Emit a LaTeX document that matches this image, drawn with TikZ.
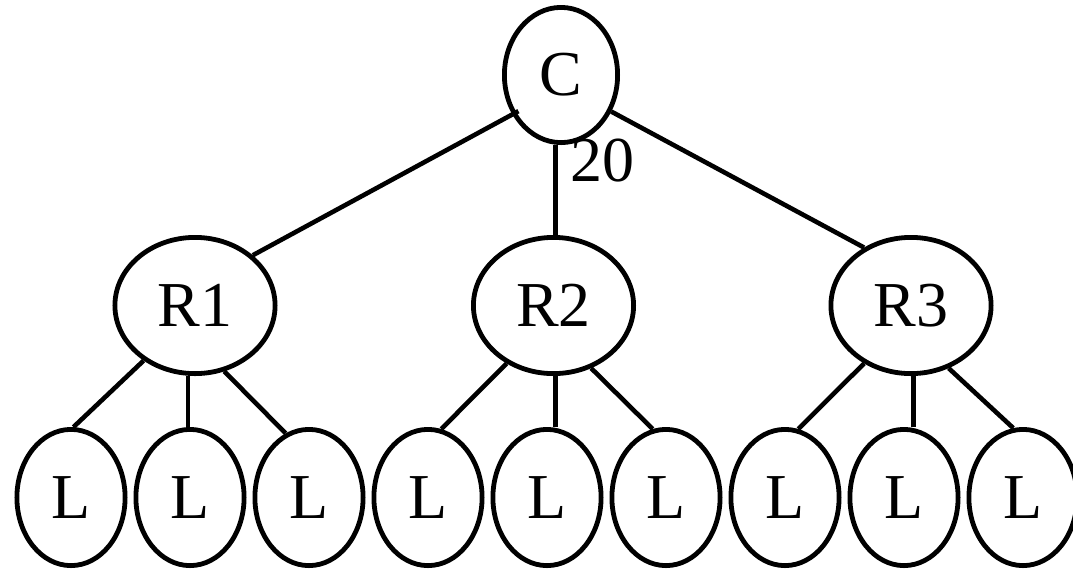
\documentclass[tikz,border=0pt]{standalone}
\usepackage{fontspec}
\setmainfont{Liberation Serif}
\usetikzlibrary{shapes.geometric}
\begin{document}
\begin{tikzpicture}[x=0.5pt,y=-0.5pt,
  nd/.style={ellipse,draw,line width=2.4pt,inner sep=0pt,font=\fontsize{32}{36}\selectfont},
  cnode/.style={nd,minimum width=56.6pt,minimum height=67.6pt},
  rnode/.style={nd,minimum width=80.1pt,minimum height=68.1pt},
  lnode/.style={nd,minimum width=54.1pt,minimum height=68.1pt},
  conn/.style={line width=2.3pt},
  lbl/.style={inner sep=0pt,font=\fontsize{32}{36}\selectfont}]
\useasboundingbox (0,0) rectangle (1073,570);
\node[cnode] (C) at (561,75) {C};
\node[rnode] (R1) at (195,305.5) {R1};
\node[rnode] (R2) at (553.5,305.5) {R2};
\node[rnode] (R3) at (911,305.5) {R3};
\foreach \i/\x in {1/71,2/190,3/309,4/428,5/547,6/666,7/785,8/904,9/1023}
  \node[lnode] (L\i) at (\x,497.5) {L};
\node[lbl] (w) at (602,161) {20};
% C to R
\draw[conn, shorten >=-3.5pt] (R1.41) -- (C.219);
\draw[conn] ([xshift=1pt]R2.north) -- ([xshift=1pt]R2.north |- C.south);
\draw[conn] (C.-36) -- (R3.129);
% R1 to L
\draw[conn] (R1.227) -- (L1.88);
\draw[conn] ([xshift=-1pt]L2.north) -- ([xshift=-1pt]L2.north |- R1.south);
\draw[conn] (R1.294) -- (L3.110);
% R2 to L
\draw[conn] (R2.231) -- (L4.79);
\draw[conn] ([xshift=1pt]R2.south) -- ([xshift=1pt]R2.south |- L5.north);
\draw[conn] (R2.301) -- (L6.101);
% R3 to L
\draw[conn] (R3.231) -- (L7.79);
\draw[conn] ([xshift=1.25pt]R3.south) -- ([xshift=1.25pt]R3.south |- L8.north);
\draw[conn] (R3.301) -- (L9.98);
\end{tikzpicture}
\end{document}
